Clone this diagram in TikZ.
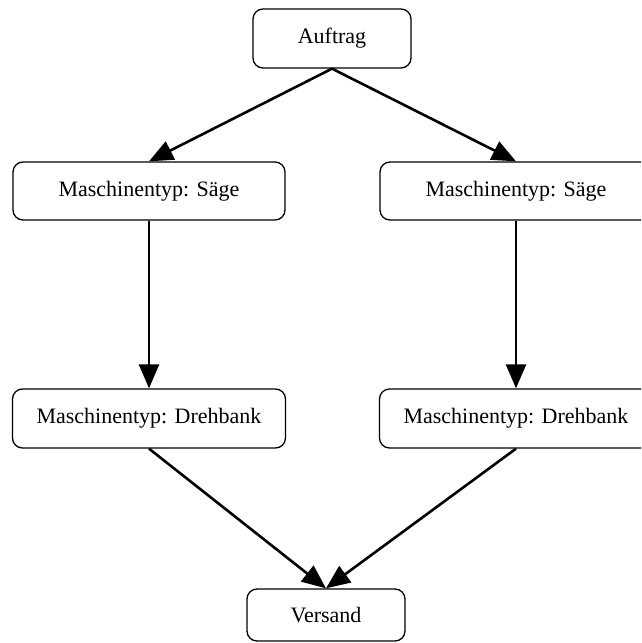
\documentclass[tikz,border=0pt]{standalone}
\usepackage{fontspec}
\setmainfont{Liberation Serif}
\usetikzlibrary{arrows.meta}
\begin{document}
\begin{tikzpicture}[x=1pt,y=-1pt,
  box/.style={draw=black, rounded corners=10pt, line width=1.3pt, inner sep=0pt,
    font=\fontsize{22}{26}\selectfont, fill=white},
  flow/.style={line width=2.6pt, -{Triangle[length=24pt,width=20pt]}}]
\clip (0,0) rectangle (641,643);
\fill[white] (0,0) rectangle (641,643);
\node[box, minimum width=158pt, minimum height=59pt] (auf) at (332,38.5) {Auftrag};
\node[box, minimum width=272pt, minimum height=58pt] (sL) at (149,191) {Maschinentyp: Säge};
\node[box, minimum width=272pt, minimum height=58pt] (sR) at (516,191) {Maschinentyp: Säge};
\node[box, minimum width=273pt, minimum height=59pt] (dL) at (149,418.5) {Maschinentyp: Drehbank};
\node[box, minimum width=273pt, minimum height=59pt] (dR) at (516,418.5) {Maschinentyp: Drehbank};
\node[box, minimum width=158pt, minimum height=52pt] (ver) at (326,615) {Versand};
\draw[flow] (auf.south) -- (sL.north);
\draw[flow] (auf.south) -- (sR.north);
\draw[flow] (sL.south) -- (dL.north);
\draw[flow] (sR.south) -- (dR.north);
\draw[flow] (dL.south) -- (ver.north);
\draw[flow] (dR.south) -- (ver.north);
\end{tikzpicture}
\end{document}
